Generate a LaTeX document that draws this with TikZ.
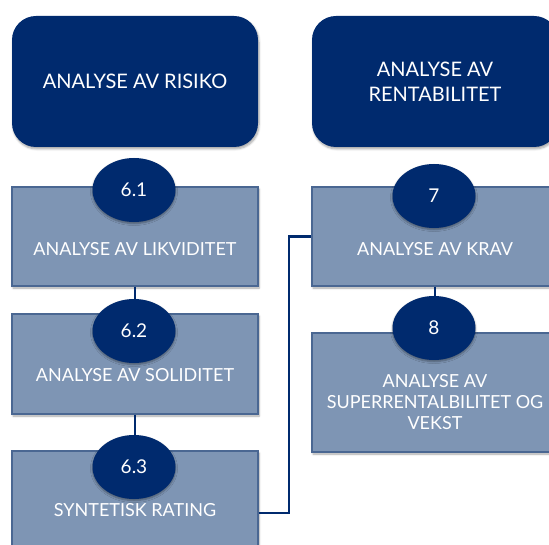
\documentclass[tikz,border=0pt]{standalone}
\usepackage{fontspec}
\setmainfont{Lato}
\usetikzlibrary{shapes.geometric,shadows.blur}
\definecolor{navy}{HTML}{002A6E}
\definecolor{lightbox}{HTML}{7E95B4}
\definecolor{boxborder}{HTML}{4A6792}
\tikzset{
  topbox/.style={draw=none,fill=navy,rounded corners=24pt,minimum width=246pt,minimum height=131pt,
    text=white,font=\fontsize{20}{25}\selectfont,align=center,
    blur shadow={shadow xshift=1pt,shadow yshift=-2pt,shadow blur steps=6,shadow opacity=35}},
  subbox/.style={draw=boxborder,line width=1.2pt,fill=lightbox,minimum width=246pt,
    blur shadow={shadow xshift=1pt,shadow yshift=-2pt,shadow blur steps=6,shadow opacity=35}},
  boxtext/.style={text=white,font=\fontsize{18}{21}\selectfont,align=center},
  numoval/.style={ellipse,fill=navy,draw=none,minimum width=83pt,minimum height=64pt,inner sep=0pt,
    text=white,font=\fontsize{19}{22}\selectfont,
    blur shadow={shadow xshift=0pt,shadow yshift=-1.5pt,shadow blur steps=5,shadow opacity=40}},
  link/.style={draw=navy,line width=2.2pt}
}
\begin{document}
\begin{tikzpicture}[x=1pt,y=-1pt]
\useasboundingbox (0,0) rectangle (549,545);
\begin{scope}
\clip (0,0) rectangle (549,545);
% top boxes
\node[topbox] (risiko) at (135,81.5) {ANALYSE AV RISIKO};
\node[topbox] (rent) at (435,81.5) {ANALYSE AV\\RENTABILITET};
% sub boxes
\node[subbox,minimum height=99pt] (b1) at (135,236.5) {};
\node[subbox,minimum height=100pt] (b2) at (135,364) {};
\node[subbox,minimum height=100pt] (b3) at (135,501) {};
\node[subbox,minimum height=99pt] (b7) at (435,236.5) {};
\node[subbox,minimum height=119pt] (b8) at (435,392.5) {};
% connectors
\draw[link] (b1.south) -- (b2.north);
\draw[link] (b2.south) -- (b3.north);
\draw[link] (b7.south) -- (b8.north);
\draw[link] ([yshift=-12pt]b3.east) -- ++(30,0) |- (b7.west);
% texts
\node[boxtext] (t1) at (135,249) {ANALYSE AV LIKVIDITET};
\node[boxtext] (t2) at (135,375) {ANALYSE AV SOLIDITET};
\node[boxtext] (t3) at (135,510) {SYNTETISK RATING};
\node[boxtext] (t7) at (435,249) {ANALYSE AV KRAV};
\node[boxtext] (t8) at (435,402) {ANALYSE AV\\SUPERRENTALBILITET OG\\VEKST};
% number ovals
\node[numoval] (n61) at (134,190) {6.1};
\node[numoval] (n62) at (134,331) {6.2};
\node[numoval] (n63) at (134,467) {6.3};
\node[numoval] (n7) at (434,196) {7};
\node[numoval] (n8) at (434,328) {8};
\end{scope}
\end{tikzpicture}
\end{document}
